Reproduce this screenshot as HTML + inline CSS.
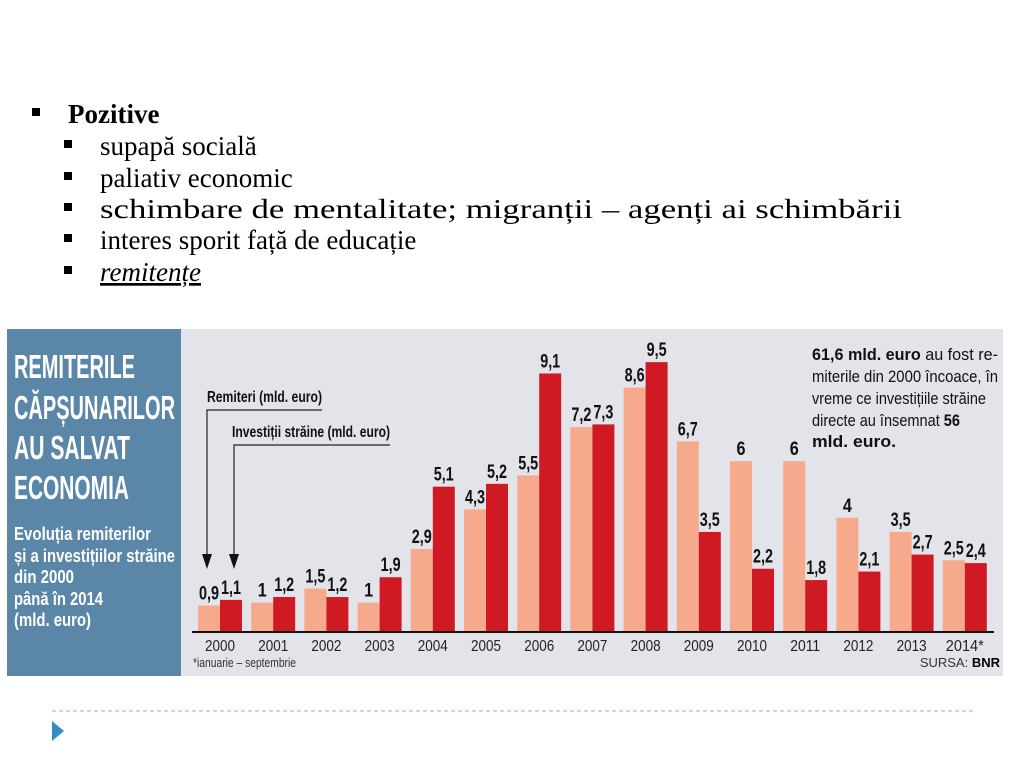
<!DOCTYPE html>
<html><head><meta charset="utf-8"><style>
html,body{margin:0;padding:0;background:#fff;width:1024px;height:768px;overflow:hidden}
svg{display:block}
.serif{font-family:"Liberation Serif",serif;font-size:27px;fill:#000}
.cond{font-family:"Liberation Sans Narrow","Liberation Sans",sans-serif}
</style></head><body>
<svg id="s" width="1024" height="768" viewBox="0 0 1024 768">
  <g>
    <rect x="32" y="108" width="8" height="8" fill="#000"/>
    <text class="serif" x="68" y="123" font-weight="bold">Pozitive</text>
    <rect x="64" y="140" width="8" height="8"/>
    <text class="serif" x="100" y="155">supapă socială</text>
    <rect x="64" y="172" width="8" height="8"/>
    <text class="serif" x="100" y="187">paliativ economic</text>
    <rect x="64" y="203" width="8" height="8"/>
    <text class="serif" x="100" y="218" textLength="802" lengthAdjust="spacingAndGlyphs">schimbare de mentalitate; migranții – agenți ai schimbării</text>
    <rect x="64" y="234" width="8" height="8"/>
    <text class="serif" x="100" y="249">interes sporit față de educație</text>
    <rect x="64" y="266" width="8" height="8"/>
    <text class="serif" x="100" y="281" font-style="italic" text-decoration="underline">remitențe</text>
  </g>

  <g>
    <rect x="7" y="329" width="996" height="347" fill="#e3e4ea"/>
    <rect x="7" y="329" width="174" height="347" fill="#5a86a8"/>
    <g class="cond" fill="#fff" font-weight="bold">
      <text x="14" y="378" font-size="33" textLength="121" lengthAdjust="spacingAndGlyphs">REMITERILE</text>
      <text x="14" y="419" font-size="33" textLength="161" lengthAdjust="spacingAndGlyphs">CĂPȘUNARILOR</text>
      <text x="14" y="459" font-size="33" textLength="116" lengthAdjust="spacingAndGlyphs">AU SALVAT</text>
      <text x="14" y="499" font-size="33" textLength="115" lengthAdjust="spacingAndGlyphs">ECONOMIA</text>
    </g>
    <g class="cond" fill="#fff" font-weight="bold" font-size="18">
      <text x="14" y="540" textLength="137" lengthAdjust="spacingAndGlyphs">Evoluția remiterilor</text>
      <text x="14" y="562" textLength="161" lengthAdjust="spacingAndGlyphs">și a investițiilor străine</text>
      <text x="14" y="583" textLength="60" lengthAdjust="spacingAndGlyphs">din 2000</text>
      <text x="14" y="605" textLength="89" lengthAdjust="spacingAndGlyphs">până în 2014</text>
      <text x="14" y="626" textLength="77" lengthAdjust="spacingAndGlyphs">(mld. euro)</text>
    </g>
    <g class="cond" font-size="17" font-weight="bold" fill="#111">
      <text x="812" y="360" textLength="186" lengthAdjust="spacingAndGlyphs">61,6 mld. euro <tspan font-weight="normal">au fost re-</tspan></text>
      <text x="812" y="382" font-weight="normal" textLength="186" lengthAdjust="spacingAndGlyphs">miterile din 2000 încoace, în</text>
      <text x="812" y="404" font-weight="normal" textLength="174" lengthAdjust="spacingAndGlyphs">vreme ce investițiile străine</text>
      <text x="812" y="426" textLength="148" lengthAdjust="spacingAndGlyphs"><tspan font-weight="normal">directe au însemnat </tspan>56</text>
      <text x="812" y="447" textLength="84" lengthAdjust="spacingAndGlyphs">mld. euro.</text>
    </g>
    <g>
      <text class="cond" x="207" y="402" font-size="16" font-weight="bold" fill="#111" textLength="115" lengthAdjust="spacingAndGlyphs">Remiteri (mld. euro)</text>
      <polyline points="322,410 207,410 207,556" fill="none" stroke="#222" stroke-width="1.2"/>
      <polygon points="202,554 212,554 207,569" fill="#111"/>
      <text class="cond" x="232" y="437" font-size="16" font-weight="bold" fill="#111" textLength="158" lengthAdjust="spacingAndGlyphs">Investiții străine (mld. euro)</text>
      <polyline points="390,445 234,445 234,556" fill="none" stroke="#222" stroke-width="1.2"/>
      <polygon points="229,554 239,554 234,569" fill="#111"/>
    </g>
    <g id="bars"></g>
    <line x1="192" y1="632" x2="994" y2="632" stroke="#111" stroke-width="2"/>
    <g id="years"></g>
    <text class="cond" x="193" y="667" font-size="13" fill="#333" textLength="103" lengthAdjust="spacingAndGlyphs">*ianuarie – septembrie</text>
    <text class="cond" x="1000" y="667" font-size="13" fill="#333" text-anchor="end">SURSA: <tspan font-weight="bold" fill="#000">BNR</tspan></text>
  </g>

  <line x1="52" y1="711" x2="973" y2="711" stroke="#7fb6cf" stroke-width="1" stroke-dasharray="4,3"/>
  <polygon points="52,721 52,741 64,731" fill="#2f8fc0"/>
</svg>
<script>
const years = ["2000","2001","2002","2003","2004","2005","2006","2007","2008","2009","2010","2011","2012","2013","2014*"];
const remiteri = [0.9,1,1.5,1,2.9,4.3,5.5,7.2,8.6,6.7,6,6,4,3.5,2.5];
const investitii = [1.1,1.2,1.2,1.9,5.1,5.2,9.1,7.3,9.5,3.5,2.2,1.8,2.1,2.7,2.4];
const remLabels = ["0,9","1","1,5","1","2,9","4,3","5,5","7,2","8,6","6,7","6","6","4","3,5","2,5"];
const invLabels = ["1,1","1,2","1,2","1,9","5,1","5,2","9,1","7,3","9,5","3,5","2,2","1,8","2,1","2,7","2,4"];
const NS = "http://www.w3.org/2000/svg";
const baseY = 631, pxPerUnit = 28.3, x0 = 198, pitch = 53.2, bw = 22;
const yS = v => baseY - v * pxPerUnit;
const xS = i => x0 + i * pitch;
const barsG = document.getElementById('bars');
const yearsG = document.getElementById('years');
function mk(tag, attrs){const e=document.createElementNS(NS,tag);for(const k in attrs)e.setAttribute(k,attrs[k]);return e;}
function addBar(x, v, color, lab, name){
  const r = mk('rect',{x:x,y:yS(v),width:bw,height:baseY-yS(v),fill:color});
  
  
  barsG.appendChild(r);
  const t = mk('text',{x:x+bw/2,y:yS(v)-6,'text-anchor':'middle','font-size':'19','font-weight':'bold',fill:'#111','class':'cond',textLength: lab.length>1? 20:9,lengthAdjust:'spacingAndGlyphs'});
  t.textContent = lab;
  
  
  barsG.appendChild(t);
}
years.forEach((y,i)=>{
  addBar(xS(i), remiteri[i], '#f7a98b', remLabels[i], 'bar-remiteri-'+i);
  addBar(xS(i)+bw, investitii[i], '#cf1a24', invLabels[i], 'bar-investitii-'+i);
  const t = mk('text',{x:xS(i)+bw,y:651,'text-anchor':'middle','font-size':'16',fill:'#222','class':'cond',textLength: y.length>4?38:30,lengthAdjust:'spacingAndGlyphs'});
  t.textContent = y;
  
  
  yearsG.appendChild(t);
});
</script>
</body></html>
